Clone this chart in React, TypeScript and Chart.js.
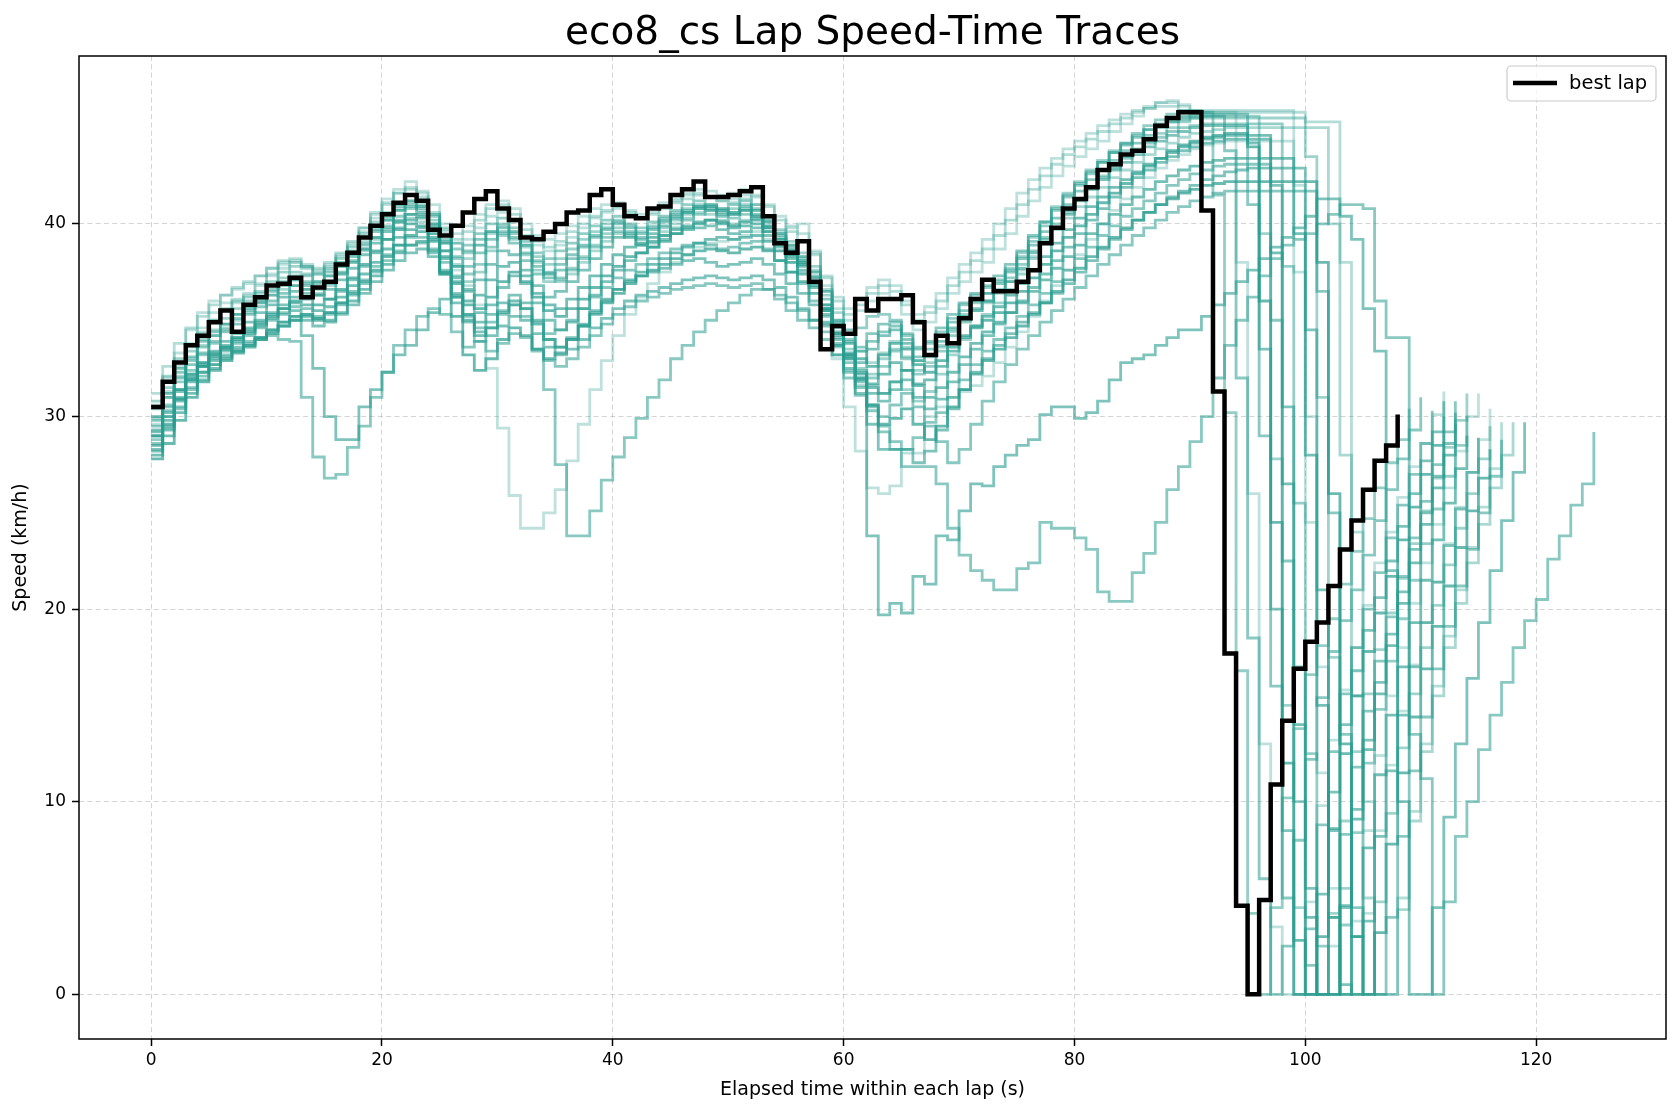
import { useEffect, useRef } from 'react';
import { Chart, registerables } from 'chart.js';

Chart.register(...registerables);

const CHART_TITLE = 'eco8_cs Lap Speed-Time Traces';
const X_LABEL = 'Elapsed time within each lap (s)';
const Y_LABEL = 'Speed (km/h)';
const LEGEND_LABEL = 'best lap';
const X_TICKS = [0, 20, 40, 60, 80, 100, 120];
const Y_TICKS = [0, 10, 20, 30, 40];
const X_MIN = -6.25;
const X_MAX = 131.25;
const Y_MIN = -2.32;
const Y_MAX = 48.72;
const SAMPLE_INTERVAL_S = 1;

// best lap speed (km/h), one value per second
const bestLap = [
  30.5, 31.8, 32.8, 33.7, 34.2, 34.9, 35.5, 34.4, 35.8, 36.2,
  36.8, 36.9, 37.2, 36.2, 36.7, 37.0, 37.9, 38.5, 39.3, 39.9,
  40.5, 41.1, 41.5, 41.2, 39.7, 39.4, 39.9, 40.6, 41.3, 41.7,
  40.8, 40.2, 39.3, 39.2, 39.6, 40.0, 40.6, 40.7, 41.5, 41.8,
  41.0, 40.4, 40.3, 40.8, 40.9, 41.5, 41.8, 42.2, 41.4, 41.4,
  41.5, 41.7, 41.9, 40.4, 39.0, 38.5, 39.1, 37.0, 33.5, 34.7,
  34.3, 36.1, 35.5, 36.1, 36.1, 36.3, 34.9, 33.2, 34.2, 33.8,
  35.1, 36.1, 37.1, 36.5, 36.5, 37.0, 37.6, 39.0, 39.8, 40.8,
  41.3, 41.9, 42.8, 43.1, 43.6, 43.8, 44.4, 45.1, 45.5, 45.8,
  45.8, 40.7, 31.3, 17.7, 4.6, 0, 4.9, 10.9, 14.2, 16.9,
  18.3, 19.3, 21.2, 23.1, 24.6, 26.2, 27.7, 28.5, 30.1,
];

const lap01 = [
  29.0, 30.6, 31.8, 32.9, 33.6, 34.2, 34.8, 35.3, 35.7, 36.1,
  36.6, 37.0, 37.3, 37.3, 37.0, 37.5, 38.0, 38.6, 39.3, 39.9,
  40.4, 40.9, 41.2, 40.8, 40.0, 39.2, 38.7, 38.9, 39.5, 40.0,
  40.3, 39.8, 39.1, 38.5, 38.2, 38.6, 39.0, 39.5, 39.9, 40.2,
  40.4, 40.0, 39.8, 40.1, 40.4, 40.7, 41.0, 41.2, 41.0, 40.8,
  41.0, 41.2, 40.8, 40.1, 39.5, 38.9, 38.3, 37.2, 35.8, 34.6,
  34.0, 34.6, 35.2, 35.3, 35.0, 34.2, 33.6, 33.8, 34.4, 35.1,
  35.8, 36.3, 36.7, 37.1, 37.6, 38.3, 39.1, 39.9, 40.7, 41.4,
  42.0, 42.6, 43.2, 43.7, 44.2, 44.7, 45.1, 45.4, 45.7, 45.9,
  45.9, 45.8, 41.5, 30.2, 16.8, 4.2, 0, 4.5, 10.2, 13.8,
  16.6, 18.1, 19.5, 21.3, 23.0, 24.7, 26.3, 27.6, 28.8, 30.4,
];

const lap02 = [
  29.6, 31.2, 32.6, 33.8, 34.6, 35.4, 35.9, 36.1, 36.4, 36.9,
  37.4, 37.9, 38.1, 37.8, 37.6, 37.9, 38.4, 39.0, 39.8, 40.6,
  41.3, 41.8, 42.2, 41.6, 40.5, 39.6, 39.0, 39.2, 39.8, 40.4,
  40.6, 40.1, 39.4, 38.9, 38.6, 38.9, 39.3, 39.8, 40.3, 40.6,
  40.8, 40.5, 40.3, 40.6, 40.9, 41.2, 41.5, 41.6, 41.4, 41.2,
  41.3, 41.5, 41.0, 40.3, 39.6, 39.8, 40.0, 38.5, 36.8, 35.6,
  35.0, 35.5, 36.0, 36.4, 36.1, 35.3, 34.5, 34.9, 35.6, 36.4,
  37.0, 37.5, 38.0, 38.7, 39.5, 40.4, 41.2, 41.9, 42.5, 43.0,
  43.5, 43.9, 44.3, 44.8, 45.2, 45.6, 46.0, 46.3, 46.4, 46.2,
  45.8, 45.8, 45.8, 45.8, 38.0, 26.0, 13.0, 3.5, 0, 0,
  4.8, 9.8, 13.2, 15.8, 18.0, 20.2, 22.4, 24.0, 25.8, 27.4,
  28.6, 30.1, 31.3,
];

const lap03 = [
  28.3, 29.5, 30.8, 31.9, 32.6, 33.2, 33.7, 34.1, 34.6, 35.0,
  35.4, 35.8, 36.2, 36.4, 36.3, 36.6, 37.1, 37.7, 38.4, 39.0,
  39.6, 40.1, 40.5, 40.4, 39.8, 38.6, 37.2, 36.6, 37.1, 37.9,
  38.6, 38.4, 37.6, 36.8, 36.2, 36.5, 37.0, 37.6, 38.2, 38.8,
  39.3, 39.5, 39.2, 39.5, 39.9, 40.3, 40.6, 40.8, 40.9, 40.7,
  40.5, 40.7, 40.4, 39.9, 39.2, 38.6, 38.0, 37.0, 35.5, 34.0,
  33.2, 32.8, 33.5, 34.2, 34.5, 33.8, 32.9, 33.2, 33.9, 34.6,
  35.2, 35.6, 36.0, 36.5, 37.0, 37.7, 38.5, 39.2, 39.8, 40.5,
  41.2, 41.8, 42.3, 42.8, 43.2, 43.6, 44.0, 44.3, 44.6, 44.8,
  45.0, 45.1, 45.1, 45.1, 45.1, 44.2, 33.5, 20.0, 8.5, 0,
  0, 5.2, 10.5, 14.0, 16.8, 18.9, 20.6, 22.5, 24.3, 26.0,
  27.7, 29.2, 30.8,
];

const lap04 = [
  30.0, 31.2, 32.3, 33.1, 33.9, 34.4, 34.8, 35.3, 35.6, 36.0,
  36.5, 36.9, 37.1, 36.8, 36.9, 37.3, 37.8, 38.3, 38.9, 39.6,
  40.2, 40.7, 40.9, 40.6, 39.5, 38.0, 37.3, 37.8, 38.5, 39.2,
  39.6, 39.0, 38.1, 37.4, 37.2, 37.6, 38.2, 38.8, 39.3, 39.7,
  40.0, 39.6, 39.3, 39.7, 40.1, 40.4, 40.6, 40.9, 40.8, 40.5,
  40.6, 40.9, 40.5, 39.8, 39.0, 38.3, 37.9, 36.9, 35.2, 33.8,
  33.0, 33.6, 34.3, 34.8, 34.9, 34.0, 33.1, 33.5, 34.2, 34.9,
  35.5, 36.0, 36.4, 36.9, 37.5, 38.2, 38.9, 39.6, 40.3, 41.0,
  41.7, 42.3, 42.8, 43.3, 43.8, 44.2, 44.6, 45.0, 45.3, 45.5,
  45.6, 45.6, 45.6, 43.8, 32.0, 18.5, 6.0, 0, 2.5, 8.0,
  12.2, 15.4, 17.8, 19.4, 21.0, 22.8, 24.6, 26.2, 27.8, 29.3,
  31.0,
];

const lap05 = [
  27.8, 28.6, 29.8, 31.0, 31.8, 32.4, 32.9, 33.3, 33.6, 34.0,
  34.3, 34.7, 35.0, 35.2, 35.0, 35.4, 35.9, 36.4, 37.0, 37.6,
  38.3, 38.9, 39.4, 39.6, 39.2, 38.3, 36.9, 35.8, 35.6, 36.2,
  37.0, 37.5, 37.0, 36.2, 35.5, 35.2, 35.6, 36.1, 36.7, 37.3,
  37.8, 38.3, 38.5, 38.8, 39.1, 39.5, 39.8, 40.0, 40.2, 40.1,
  39.9, 40.1, 40.2, 39.8, 39.2, 38.6, 38.1, 37.5, 36.5, 35.0,
  33.8, 33.0, 32.6, 33.2, 33.8, 33.5, 32.7, 32.3, 32.9, 33.6,
  34.2, 34.6, 35.0, 35.4, 35.9, 36.5, 37.2, 37.9, 38.6, 39.3,
  39.9, 40.5, 41.1, 41.6, 42.1, 42.6, 43.0, 43.4, 43.8, 44.1,
  44.3, 44.5, 44.6, 44.7, 44.7, 44.0, 36.0, 24.5, 12.0, 2.8,
  0, 3.0, 8.6, 12.5, 15.5, 17.8, 19.8, 21.7, 23.6, 25.3,
  27.0, 28.5, 30.0,
];

const lap06 = [
  30.8, 32.1, 33.0, 33.7, 34.3, 35.0, 35.6, 36.0, 36.2, 36.5,
  37.0, 37.5, 37.8, 37.7, 37.4, 37.7, 38.2, 38.8, 39.5, 40.1,
  40.6, 41.0, 41.2, 41.0, 40.2, 39.0, 37.8, 37.0, 37.5, 38.6,
  39.4, 39.2, 38.4, 37.6, 37.0, 37.1, 37.7, 38.3, 38.9, 39.5,
  39.8, 39.4, 39.0, 39.3, 39.8, 40.2, 40.5, 40.8, 41.0, 40.8,
  40.6, 40.8, 41.0, 40.4, 39.7, 39.1, 38.5, 37.8, 36.3, 34.7,
  33.5, 32.5, 31.6, 31.2, 31.8, 31.4, 30.8, 31.3, 32.2, 33.2,
  34.0, 34.7, 35.3, 35.9, 36.6, 37.4, 38.2, 39.0, 39.8, 40.6,
  41.3, 41.9, 42.5, 43.0, 43.5, 43.9, 44.3, 44.7, 45.0, 45.3,
  45.5, 45.6, 45.6, 45.6, 45.6, 45.6, 39.5, 27.8, 15.0, 4.5,
  0, 0, 4.2, 9.0, 12.6, 15.6, 17.9, 19.8, 21.6, 23.4,
  25.1, 26.8, 28.4, 29.8, 31.2,
];

const lap07 = [
  29.3, 30.2, 31.3, 32.2, 32.8, 33.4, 33.9, 34.3, 34.9, 35.4,
  35.8, 36.2, 36.5, 36.6, 36.3, 36.1, 36.5, 37.1, 37.8, 38.5,
  39.2, 39.8, 40.2, 40.3, 39.9, 39.0, 37.8, 36.5, 35.4, 35.8,
  36.7, 37.3, 36.9, 35.9, 35.0, 34.5, 34.9, 35.6, 36.3, 37.0,
  37.6, 38.1, 38.5, 38.8, 39.2, 39.5, 39.7, 39.8, 39.9, 39.7,
  39.5, 39.6, 39.8, 39.4, 38.8, 38.2, 37.6, 36.8, 35.6, 34.2,
  33.0, 32.0, 31.2, 30.8, 31.4, 31.9, 31.0, 30.4, 30.9, 31.8,
  32.7, 33.5, 34.2, 34.8, 35.4, 36.0, 36.7, 37.4, 38.1, 38.8,
  39.5, 40.2, 40.8, 41.4, 41.9, 42.4, 42.8, 43.2, 43.5, 43.8,
  44.0, 44.2, 44.3, 44.4, 44.4, 44.4, 44.4, 42.0, 30.5, 17.0,
  5.5, 0, 0, 4.5, 9.6, 13.2, 16.2, 18.7, 20.9, 23.1,
  25.0, 26.9, 28.6, 30.2,
];

const lap08 = [
  28.8, 30.0, 31.4, 32.4, 33.2, 33.8, 34.5, 35.1, 35.5, 35.9,
  36.3, 36.8, 37.1, 37.0, 36.6, 36.9, 37.4, 38.0, 38.7, 39.3,
  39.9, 40.4, 40.8, 40.9, 40.4, 39.4, 38.2, 37.4, 37.9, 38.8,
  39.5, 39.5, 38.9, 38.1, 37.4, 37.2, 37.6, 38.2, 38.8, 39.3,
  39.6, 39.3, 38.9, 39.0, 39.4, 39.8, 40.2, 40.5, 40.7, 40.6,
  40.3, 40.5, 40.7, 40.2, 39.4, 38.7, 38.0, 37.2, 35.6, 34.1,
  33.2, 32.4, 32.0, 32.6, 33.4, 33.0, 32.2, 32.6, 33.4, 34.2,
  34.9, 35.5, 36.0, 36.6, 37.2, 37.9, 38.6, 39.3, 40.0, 40.7,
  41.3, 41.9, 42.4, 42.9, 43.4, 43.8, 44.2, 44.5, 44.8, 45.0,
  45.1, 45.2, 45.2, 45.2, 45.2, 45.2, 45.2, 45.2, 37.8, 25.5,
  12.5, 2.5, 0, 3.6, 8.4, 12.0, 14.8, 17.3, 19.5, 21.5,
  23.4, 25.2, 26.9, 28.5, 30.0,
];

const lap09 = [
  31.2, 32.6, 33.8, 34.6, 35.2, 35.8, 36.3, 36.7, 37.0, 37.3,
  37.7, 38.1, 38.2, 37.9, 37.7, 38.0, 38.5, 39.1, 39.8, 40.5,
  41.1, 41.6, 41.8, 41.4, 40.6, 39.7, 39.2, 39.6, 40.2, 40.8,
  41.0, 40.5, 39.7, 39.1, 38.8, 39.1, 39.6, 40.0, 40.4, 40.7,
  40.9, 40.6, 40.3, 40.5, 40.8, 41.1, 41.3, 41.5, 41.4, 41.2,
  41.1, 41.3, 41.4, 40.9, 40.2, 39.6, 39.1, 38.4, 37.2, 36.0,
  35.3, 35.8, 36.4, 36.8, 36.5, 35.8, 35.0, 35.4, 36.0, 36.8,
  37.5, 38.1, 38.7, 39.4, 40.2, 41.0, 41.8, 42.5, 43.1, 43.6,
  44.0, 44.4, 44.8, 45.2, 45.5, 45.8, 46.0, 46.1, 46.1, 45.9,
  45.8, 45.8, 45.8, 45.8, 45.8, 45.8, 45.8, 45.8, 45.8, 45.8,
  45.3, 45.3, 45.3, 38.0, 24.0, 10.0, 0, 0, 5.0, 9.5,
  13.0, 16.0, 18.6, 21.0, 23.2, 25.3, 27.3, 29.7,
];

const lap10 = [
  28.0, 29.0, 30.2, 31.2, 31.9, 32.5, 33.0, 33.4, 33.7, 34.1,
  34.5, 34.9, 35.2, 35.3, 35.1, 35.0, 35.4, 36.0, 36.6, 37.3,
  37.9, 38.5, 38.9, 39.1, 38.6, 37.5, 36.2, 35.0, 34.2, 34.6,
  35.4, 36.0, 35.6, 34.8, 34.0, 33.6, 34.0, 34.7, 35.4, 36.0,
  36.6, 37.1, 37.5, 37.9, 38.2, 38.5, 38.8, 39.0, 39.2, 39.3,
  39.2, 39.3, 39.4, 39.1, 38.6, 38.0, 37.4, 36.7, 35.6, 34.3,
  33.2, 32.2, 31.5, 31.2, 31.8, 32.4, 31.6, 31.0, 31.5, 32.3,
  33.1, 33.8, 34.4, 34.9, 35.4, 35.9, 36.5, 37.1, 37.7, 38.3,
  38.9, 39.5, 40.0, 40.5, 41.0, 41.4, 41.8, 42.2, 42.5, 42.8,
  43.0, 43.2, 43.3, 43.4, 43.4, 43.4, 43.4, 43.4, 43.4, 39.5,
  28.0, 15.0, 4.0, 0, 3.0, 7.6, 11.4, 14.5, 17.0, 19.3,
  21.5, 23.6, 25.5, 27.3, 29.0,
];

const lap11 = [
  29.8, 31.0, 32.0, 32.7, 33.3, 33.9, 34.4, 34.8, 35.3, 35.7,
  36.0, 36.4, 36.8, 36.9, 36.7, 37.0, 37.5, 38.1, 38.7, 39.3,
  39.8, 40.2, 40.5, 40.5, 40.0, 39.1, 38.3, 38.6, 39.2, 39.6,
  39.8, 39.3, 38.5, 37.8, 37.5, 37.9, 38.4, 38.9, 39.4, 39.8,
  40.1, 39.8, 39.5, 39.8, 40.2, 40.5, 40.7, 40.9, 40.7, 40.4,
  40.5, 40.7, 40.3, 39.6, 38.9, 38.4, 37.9, 37.3, 36.1, 34.8,
  33.9, 33.4, 33.9, 34.4, 34.7, 34.3, 33.5, 33.9, 34.6, 35.3,
  35.9, 36.4, 36.8, 37.3, 37.9, 38.6, 39.4, 40.1, 40.8, 41.5,
  42.1, 42.7, 43.2, 43.7, 44.1, 44.5, 44.9, 45.2, 45.4, 45.6,
  45.7, 45.7, 45.7, 45.7, 45.7, 41.0, 29.0, 16.0, 5.0, 0,
  3.4, 8.8, 12.6, 15.6, 18.0, 20.0, 21.9, 23.7, 25.4, 27.0,
  28.6, 30.3,
];

const lap12 = [
  30.4, 31.5, 32.5, 33.4, 34.0, 34.5, 35.1, 35.6, 36.0, 36.4,
  36.8, 37.2, 37.5, 37.4, 37.0, 37.3, 37.8, 38.4, 39.0, 39.7,
  40.2, 40.7, 41.0, 40.9, 40.5, 39.8, 39.0, 38.5, 38.9, 39.6,
  40.0, 39.6, 38.9, 38.3, 37.9, 38.2, 38.7, 39.2, 39.6, 40.0,
  40.2, 39.9, 39.6, 39.9, 40.3, 40.6, 40.8, 41.0, 40.9, 40.7,
  40.8, 41.0, 40.7, 40.1, 39.5, 38.9, 38.2, 37.0, 35.3, 33.6,
  32.4, 31.6, 32.2, 33.0, 33.5, 33.1, 32.4, 32.8, 33.6, 34.5,
  35.3, 35.9, 36.4, 37.0, 37.7, 38.5, 39.3, 40.1, 40.9, 41.6,
  42.2, 42.8, 43.3, 43.8, 44.2, 44.6, 44.9, 45.1, 45.3, 45.4,
  45.5, 45.5, 45.5, 45.5, 45.5, 45.5, 45.5, 45.5, 45.5, 45.5,
  43.5, 31.0, 17.5, 5.5, 0, 0, 4.8, 9.4, 12.8, 15.6,
  18.0, 20.2, 22.3, 24.2, 26.0, 27.8, 29.5,
];

const lap13 = [
  28.5, 29.6, 30.9, 32.0, 32.7, 33.3, 33.6, 34.0, 34.4, 34.8,
  35.2, 35.6, 36.0, 36.1, 35.8, 36.1, 36.6, 37.2, 37.9, 38.6,
  39.2, 39.7, 40.0, 39.9, 39.1, 37.4, 35.2, 33.2, 32.4, 33.0,
  34.0, 34.6, 34.2, 33.5, 33.0, 33.3, 34.0, 34.7, 35.3, 35.9,
  36.4, 36.9, 37.3, 37.6, 37.9, 38.2, 38.4, 38.6, 38.7, 38.6,
  38.5, 38.7, 38.8, 38.6, 38.1, 37.5, 37.0, 36.4, 35.5, 34.3,
  33.1, 31.9, 30.6, 29.6, 29.9, 30.4, 29.6, 28.8, 29.5, 30.5,
  31.4, 32.2, 32.9, 33.5, 34.1, 34.7, 35.3, 35.9, 36.5, 37.1,
  37.7, 38.3, 38.8, 39.3, 39.8, 40.2, 40.6, 41.0, 41.3, 41.6,
  41.8, 42.0, 42.1, 42.2, 42.2, 42.2, 42.2, 42.2, 42.2, 42.2,
  42.2, 38.0, 26.0, 13.0, 3.0, 0, 3.2, 7.8, 11.5, 14.4,
  16.9, 19.1, 21.2, 23.2, 25.1, 26.8, 28.3,
];

const lap14 = [
  30.6, 32.0, 33.3, 34.5, 35.4, 36.0, 36.3, 36.6, 36.9, 37.3,
  37.7, 38.0, 38.0, 37.8, 37.5, 37.8, 38.3, 38.9, 39.6, 40.3,
  41.0, 41.6, 41.9, 41.7, 41.0, 40.0, 39.5, 39.9, 40.5, 41.0,
  41.2, 40.8, 40.0, 39.4, 39.2, 39.5, 39.9, 40.4, 40.8, 41.0,
  41.1, 40.7, 40.5, 40.8, 41.1, 41.3, 41.6, 41.8, 41.7, 41.5,
  41.6, 41.8, 41.5, 41.0, 40.4, 39.9, 39.5, 38.6, 37.3, 36.2,
  35.6, 36.1, 36.7, 37.1, 36.8, 36.0, 35.3, 35.7, 36.4, 37.2,
  37.9, 38.5, 39.2, 40.0, 40.8, 41.6, 42.3, 42.9, 43.4, 43.9,
  44.3, 44.7, 45.1, 45.4, 45.7, 45.9, 46.1, 46.3, 46.3, 46.1,
  45.9, 45.9, 45.9, 45.9, 45.9, 45.9, 45.9, 45.9, 45.9, 42.0,
  30.0, 17.0, 5.5, 0, 3.8, 8.5, 12.4, 15.5, 18.0, 20.3,
  22.4, 24.4, 26.3, 28.2, 30.0, 31.2,
];

const lap15 = [
  29.0, 30.3, 31.4, 32.2, 32.8, 33.2, 33.5, 33.6, 33.9, 34.1,
  34.2, 34.0, 33.9, 31.0, 27.9, 26.8, 27.0, 28.4, 29.5, 31.0,
  32.3, 33.7, 34.5, 35.2, 35.6, 35.3, 34.4, 33.6, 33.9, 34.6,
  35.3, 35.8, 35.6, 34.9, 34.3, 34.5, 35.0, 35.6, 36.2, 36.7,
  37.2, 37.6, 37.9, 38.2, 38.5, 38.7, 38.9, 39.0, 38.9, 38.7,
  38.8, 39.0, 39.1, 38.7, 38.1, 37.5, 36.9, 36.0, 34.7, 33.2,
  32.0, 31.1, 30.3, 30.0, 30.6, 31.2, 30.5, 29.7, 30.2, 31.0,
  31.9, 32.7, 33.4, 34.0, 34.6, 35.2, 35.8, 36.4, 37.0, 37.6,
  38.2, 38.8, 39.4, 39.9, 40.4, 40.8, 41.2, 41.6, 42.0, 42.3,
  42.6, 42.8, 43.0, 43.1, 43.1, 43.1, 43.1, 35.0, 22.5, 10.0,
  1.5, 0, 4.0, 8.3, 11.8, 14.7, 17.3, 19.6, 21.7, 23.7,
  25.6, 27.5, 29.2, 30.8,
];

const lap16 = [
  28.2, 29.3, 30.5, 31.5, 32.3, 32.9, 33.5, 33.9, 34.3, 34.7,
  35.1, 35.3, 35.5, 34.2, 32.5, 30.0, 28.8, 28.8, 30.5, 31.4,
  32.3, 33.2, 33.7, 34.5, 35.4, 36.1, 35.9, 35.3, 34.9, 35.3,
  35.9, 36.3, 35.9, 35.0, 34.0, 33.6, 34.1, 34.8, 35.5, 36.1,
  36.6, 37.0, 37.3, 37.5, 37.7, 37.9, 38.1, 38.2, 38.0, 37.8,
  37.9, 38.0, 38.2, 37.9, 37.4, 36.9, 36.4, 35.8, 34.9, 33.7,
  32.5, 31.2, 29.6, 28.3, 28.3, 28.3, 27.6, 28.2, 29.3, 30.4,
  31.4, 32.3, 33.0, 33.7, 34.3, 34.9, 35.4, 35.9, 36.4, 36.9,
  37.5, 38.1, 38.7, 39.2, 39.7, 40.2, 40.6, 41.0, 41.4, 41.7,
  42.0, 42.3, 42.5, 42.7, 42.8, 42.9, 42.9, 42.9, 42.9, 42.9,
  34.5, 21.0, 8.5, 0.5, 0, 3.8, 8.2, 11.6, 14.5, 17.0,
  19.3, 21.4, 23.3, 25.2, 27.1, 28.9,
];

const lap17 = [
  30.0, 31.3, 32.5, 33.6, 34.4, 35.0, 35.5, 35.9, 36.3, 36.8,
  37.3, 37.7, 38.0, 37.8, 37.4, 37.6, 38.0, 38.5, 39.1, 39.7,
  40.3, 40.8, 41.1, 40.7, 39.7, 38.6, 37.6, 36.8, 35.8, 32.5,
  29.4, 25.9, 24.2, 24.2, 25.0, 26.2, 27.7, 29.6, 31.4, 32.9,
  34.2, 35.3, 36.2, 36.9, 37.5, 38.0, 38.4, 38.8, 39.0, 39.1,
  39.2, 39.4, 39.6, 39.2, 38.6, 38.0, 37.5, 36.8, 35.3, 33.0,
  30.5, 28.2, 26.3, 26.0, 26.4, 28.1, 28.1, 30.0, 30.5, 31.0,
  31.3, 31.6, 32.1, 32.8, 33.6, 34.4, 35.2, 36.0, 36.8, 37.6,
  38.4, 39.2, 40.0, 40.7, 41.3, 41.9, 42.4, 42.9, 43.3, 43.6,
  43.9, 44.1, 44.2, 44.3, 44.3, 44.3, 44.3, 44.3, 44.3, 37.5,
  24.5, 11.5, 2.5, 0, 0, 4.2, 8.5, 11.9, 14.7, 17.1,
  19.3, 21.4, 23.4, 25.3, 27.1, 28.8, 30.4,
];

const lap18 = [
  29.5, 30.5, 31.4, 32.1, 32.6, 33.0, 33.4, 33.8, 34.2, 34.6,
  35.0, 35.4, 35.7, 35.6, 35.2, 35.4, 35.9, 36.5, 37.1, 37.8,
  38.4, 38.9, 39.3, 39.3, 38.7, 37.6, 36.4, 35.3, 34.6, 34.9,
  35.5, 35.8, 35.2, 33.4, 31.4, 27.5, 23.8, 23.8, 25.1, 26.7,
  27.9, 28.9, 29.9, 31.0, 31.9, 33.0, 33.7, 34.4, 35.0, 35.5,
  35.9, 36.3, 36.6, 36.6, 36.3, 35.9, 35.5, 35.0, 34.4, 33.7,
  32.8, 31.8, 30.6, 29.2, 28.3, 28.3, 28.9, 29.5, 28.7, 27.6,
  28.3, 29.6, 30.8, 31.8, 32.7, 33.5, 34.2, 34.9, 35.5, 36.1,
  36.7, 37.3, 37.9, 38.4, 38.9, 39.4, 39.8, 40.2, 40.6, 40.9,
  41.2, 41.4, 41.6, 41.7, 41.7, 41.7, 41.7, 41.7, 41.7, 41.7,
  41.7, 36.5, 25.0, 13.5, 4.5, 0, 0, 4.0, 8.2, 11.6,
  14.4, 16.9, 19.1, 21.2, 23.1, 25.0, 26.9, 28.8,
];

const lap19 = [
  29.2, 30.0, 31.0, 31.8, 32.3, 32.7, 33.1, 33.4, 33.7, 34.0,
  34.4, 34.7, 35.0, 35.0, 34.7, 34.9, 35.3, 35.8, 36.4, 37.0,
  37.6, 38.1, 38.5, 38.7, 38.3, 37.4, 36.3, 35.2, 34.4, 34.2,
  34.7, 35.2, 35.0, 34.3, 33.6, 33.2, 33.5, 34.0, 34.6, 35.1,
  35.6, 36.0, 36.3, 36.5, 36.7, 36.9, 37.1, 37.2, 37.3, 37.2,
  37.1, 37.2, 37.3, 37.1, 36.7, 36.2, 35.6, 35.0, 34.8, 34.9,
  34.5, 32.0, 23.8, 19.7, 20.3, 19.8, 21.7, 21.3, 23.8, 23.6,
  25.1, 26.5, 26.4, 27.4, 28.0, 28.5, 28.8, 30.1, 30.5, 30.5,
  29.9, 30.2, 30.8, 31.9, 32.8, 33.0, 33.2, 33.7, 34.1, 34.5,
  34.5, 35.2, 35.8, 36.4, 37.0, 37.6, 38.2, 38.8, 39.3, 39.8,
  40.4, 41.3, 41.3, 40.4, 39.2, 35.6, 33.4, 22.0, 10.0, 0,
  0, 4.5, 9.2, 13.0, 16.4, 19.3, 22.0, 24.6, 27.1, 29.7,
];

const lap20 = [
  28.6, 29.4, 30.4, 31.4, 32.1, 32.7, 33.2, 33.5, 33.8, 34.1,
  34.5, 34.9, 35.2, 35.3, 35.1, 35.3, 35.8, 36.3, 36.9, 37.5,
  38.1, 38.6, 38.9, 39.0, 38.5, 37.5, 36.2, 34.9, 33.9, 33.4,
  33.8, 34.3, 34.1, 33.5, 32.9, 32.6, 33.0, 33.6, 34.2, 34.8,
  35.3, 35.7, 36.0, 36.2, 36.4, 36.6, 36.7, 36.8, 36.9, 36.8,
  36.7, 36.8, 36.9, 36.6, 36.1, 35.5, 35.0, 34.6, 34.0, 33.2,
  32.3, 31.5, 30.5, 29.5, 28.7, 27.4, 27.4, 27.4, 26.5, 24.2,
  22.8, 22.0, 21.5, 21.0, 21.0, 22.1, 22.4, 24.5, 24.2, 24.2,
  23.7, 23.1, 20.9, 20.4, 20.4, 21.9, 22.9, 24.5, 26.2, 27.4,
  28.7, 30.0, 32.0, 33.7, 35.0, 36.2, 37.3, 38.2, 38.9, 39.2,
  39.5, 40.0, 40.5, 41.0, 41.0, 40.8, 36.0, 34.1, 34.1, 13.5,
  11.2, 0, 4.8, 8.2, 10.0, 12.7, 14.5, 16.2, 18.0, 19.4,
  20.5, 22.6, 23.8, 25.4, 26.5, 29.2,
];

const lap21 = [
  29.9, 31.0, 32.1, 33.0, 33.7, 34.2, 34.6, 35.0, 35.4, 35.9,
  36.3, 36.6, 36.8, 36.6, 36.4, 36.8, 37.4, 38.0, 38.6, 39.2,
  39.7, 40.1, 40.3, 40.1, 39.5, 38.6, 37.9, 38.2, 38.9, 39.5,
  39.9, 39.6, 38.8, 38.0, 37.4, 37.0, 37.4, 38.0, 38.6, 39.1,
  39.5, 39.3, 39.0, 39.3, 39.6, 40.0, 40.3, 40.6, 40.5, 40.2,
  40.0, 40.2, 40.4, 39.9, 39.3, 38.8, 38.3, 37.6, 36.6, 35.4,
  34.3, 33.4, 32.8, 33.3, 33.9, 33.6, 32.9, 33.1, 33.7, 34.4,
  35.0, 35.5, 35.9, 36.4, 37.0, 37.6, 38.3, 39.0, 39.7, 40.3,
  40.9, 41.4, 41.9, 42.4, 42.8, 43.2, 43.6, 43.9, 44.2, 44.5,
  44.7, 44.8, 44.9, 45.0, 45.0, 45.0, 45.0, 45.0, 45.0, 45.0,
  45.0, 45.0, 40.0, 28.0, 15.5, 5.0, 0, 0, 4.4, 9.0,
  12.6, 15.5, 18.0, 20.3, 22.4, 24.4, 26.3, 28.0, 29.7,
];

const lap22 = [
  29.0, 29.8, 30.9, 31.9, 32.6, 33.1, 33.6, 34.1, 34.5, 34.9,
  35.3, 35.6, 35.9, 35.8, 35.5, 35.7, 36.2, 36.8, 37.4, 38.0,
  38.7, 39.3, 39.7, 39.8, 39.3, 38.2, 37.0, 36.0, 36.3, 37.1,
  37.8, 38.0, 37.3, 36.4, 35.8, 35.6, 36.1, 36.7, 37.3, 37.9,
  38.4, 38.8, 38.9, 39.1, 39.4, 39.7, 39.9, 40.1, 40.2, 40.0,
  39.8, 39.9, 40.0, 39.6, 39.0, 38.4, 37.8, 37.0, 35.8, 34.4,
  33.3, 32.3, 31.7, 32.2, 32.8, 32.4, 31.7, 31.9, 32.6, 33.4,
  34.1, 34.7, 35.2, 35.7, 36.3, 36.9, 37.6, 38.3, 39.0, 39.7,
  40.3, 40.9, 41.4, 41.9, 42.3, 42.7, 43.1, 43.4, 43.7, 44.0,
  44.2, 44.4, 44.5, 44.6, 44.6, 44.6, 44.6, 38.5, 26.5, 14.0,
  4.0, 0, 0, 4.6, 9.1, 12.7, 15.6, 18.1, 20.3, 22.4,
  24.4, 26.3, 28.0, 29.6,
];

const otherLaps = [
  lap01, lap02, lap03, lap04, lap05, lap06, lap07, lap08, lap09, lap10, lap11,
  lap12, lap13, lap14, lap15, lap16, lap17, lap18, lap19, lap20, lap21, lap22,
];
const lapOpacity = [
  0.5, 0.3, 0.6, 0.55, 0.7, 0.45, 0.6, 0.5, 0.35, 0.65, 0.55,
  0.45, 0.7, 0.3, 0.55, 0.6, 0.3, 0.55, 0.6, 0.55, 0.4, 0.65,
];

const FONT = "'DejaVu Sans', 'Liberation Sans', Arial, sans-serif";
const GRID_COLOR = 'rgba(176,176,176,0.55)';

function toPoints(values: number[]) {
  return values.map((v, i) => ({ x: i * SAMPLE_INTERVAL_S, y: v }));
}

const frameLegendPlugin = {
  id: 'frameLegend',
  afterLayout(chart: any) {
    // centre the title over the plotting area, as matplotlib does
    const tb = chart.titleBlock;
    if (tb) {
      tb.left = chart.chartArea.left;
      tb.right = chart.chartArea.right;
      tb.width = tb.right - tb.left;
    }
  },
  afterDraw(chart: any) {
    const { ctx, chartArea } = chart;
    const { left, right, top, bottom } = chartArea;
    ctx.save();
    ctx.strokeStyle = '#000';
    ctx.lineWidth = 1.5;
    ctx.strokeRect(left, top, right - left, bottom - top);

    const bw = 149;
    const bh = 35;
    const bx = right - 10 - bw;
    const by = top + 10;
    ctx.beginPath();
    ctx.roundRect(bx, by, bw, bh, 4);
    ctx.fillStyle = 'rgba(255,255,255,0.8)';
    ctx.fill();
    ctx.strokeStyle = '#cccccc';
    ctx.lineWidth = 1.2;
    ctx.stroke();

    ctx.beginPath();
    ctx.moveTo(bx + 6, by + 17);
    ctx.lineTo(bx + 50, by + 17);
    ctx.strokeStyle = '#000';
    ctx.lineWidth = 4.5;
    ctx.stroke();

    ctx.fillStyle = '#000';
    ctx.font = `19.5px ${FONT}`;
    ctx.textBaseline = 'middle';
    ctx.textAlign = 'left';
    ctx.fillText(LEGEND_LABEL, bx + 62, by + 18);
    ctx.restore();
  },
};

export default function App() {
  const canvasRef = useRef<HTMLCanvasElement | null>(null);

  useEffect(() => {
    if (!canvasRef.current) return;
    const datasets: any[] = [
      {
        label: LEGEND_LABEL,
        data: toPoints(bestLap),
        borderColor: '#000000',
        borderWidth: 4.5,
        stepped: 'before',
        pointRadius: 0,
        fill: false,
        borderJoinStyle: 'miter',
      },
      ...otherLaps.map((lap, k) => ({
        label: `lap ${k + 1}`,
        data: toPoints(lap),
        borderColor: `rgba(42,157,143,${lapOpacity[k]})`,
        borderWidth: 2.8,
        stepped: 'before',
        pointRadius: 0,
        fill: false,
        borderJoinStyle: 'miter',
      })),
    ];

    const chart = new Chart(canvasRef.current, {
      type: 'line',
      data: { datasets },
      plugins: [frameLegendPlugin],
      options: {
        responsive: false,
        animation: false,
        parsing: false,
        normalized: true,
        layout: { padding: { left: 0, right: 14, top: 0, bottom: 0 } },
        plugins: {
          legend: { display: false },
          tooltip: { enabled: false },
          title: {
            display: true,
            text: CHART_TITLE,
            color: '#000',
            font: { family: FONT, size: 39, weight: 'normal', lineHeight: 1.1 },
            padding: { top: 12.5, bottom: 0.6 },
          },
        },
        scales: {
          x: {
            type: 'linear',
            min: X_MIN,
            max: X_MAX,
            afterBuildTicks: (s: any) => {
              s.ticks = X_TICKS.map((v) => ({ value: v }));
            },
            afterFit: (s: any) => {
              s.height = 74;
            },
            grid: {
              color: GRID_COLOR,
              lineWidth: 1,
              drawTicks: true,
              tickLength: 7,
              tickColor: '#000',
              tickWidth: 1.5,
              tickBorderDash: [],
            },
            border: { display: false, dash: [5, 3.3] },
            ticks: {
              color: '#000',
              font: { family: FONT, size: 17 },
              padding: 4,
              maxRotation: 0,
              autoSkip: false,
            },
            title: {
              display: true,
              text: X_LABEL,
              color: '#000',
              font: { family: FONT, size: 19 },
              padding: { top: 0, bottom: 12 },
            },
          },
          y: {
            type: 'linear',
            min: Y_MIN,
            max: Y_MAX,
            afterBuildTicks: (s: any) => {
              s.ticks = Y_TICKS.map((v) => ({ value: v }));
            },
            afterFit: (s: any) => {
              s.width = 79;
            },
            grid: {
              color: GRID_COLOR,
              lineWidth: 1,
              drawTicks: true,
              tickLength: 7,
              tickColor: '#000',
              tickWidth: 1.5,
              tickBorderDash: [],
            },
            border: { display: false, dash: [5, 3.3] },
            ticks: {
              color: '#000',
              font: { family: FONT, size: 17 },
              padding: 6,
              autoSkip: false,
            },
            title: {
              display: true,
              text: Y_LABEL,
              color: '#000',
              font: { family: FONT, size: 19 },
              padding: { top: 10, bottom: 0 },
            },
          },
        },
      } as any,
    });
    return () => chart.destroy();
  }, []);

  return (
    <div style={{ position: 'absolute', left: 0, top: 0, width: 1680, height: 1113, background: '#fff' }}>
      <canvas ref={canvasRef} width={1680} height={1113} style={{ display: 'block' }} />
    </div>
  );
}
